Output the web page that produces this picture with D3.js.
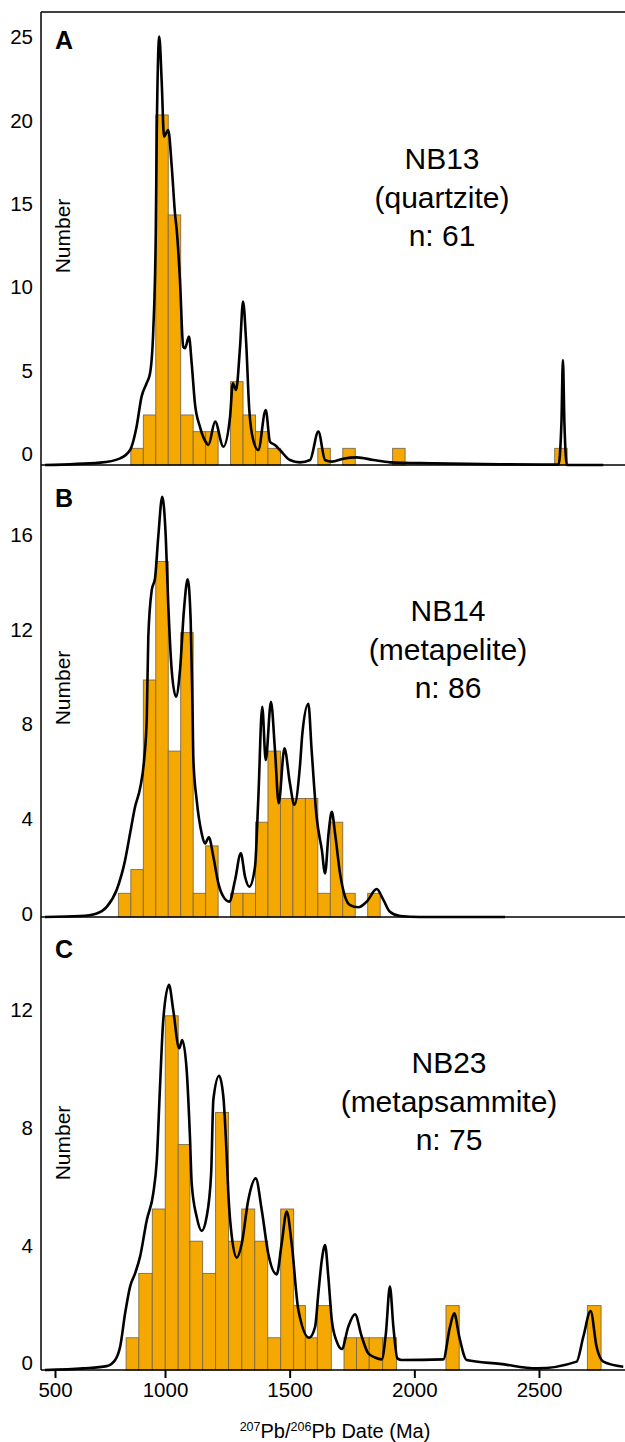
<!DOCTYPE html>
<html><head><meta charset="utf-8">
<script src="https://cdn.jsdelivr.net/npm/d3@7/dist/d3.min.js"></script>
<style>
body{margin:0;background:#fff}
svg{display:block}
text{font-family:"Liberation Sans",Arial,Helvetica,sans-serif;fill:#000}
</style>
</head><body>
<svg id="chart" width="625" height="1442"></svg>
<script>
// ---------------- data ----------------
const xTickValues = [500, 1000, 1500, 2000, 2500];

// Panel A  (NB13, quartzite)
const aTicks = [0, 5, 10, 15, 20, 25];
const aBinLo = [863, 913, 963, 1013, 1063, 1113, 1163, 1263, 1313, 1363, 1413, 1613, 1713, 1913, 2563];
const aBinHi = [913, 963, 1013, 1063, 1113, 1163, 1213, 1313, 1363, 1413, 1463, 1663, 1763, 1963, 2613];
const aCount = [1, 3, 21, 15, 3, 2, 2, 5, 3, 2, 1, 1, 1, 1, 1];
const aCurveAge = [450, 725, 820, 860, 886, 906, 926, 940, 953, 963, 967, 977, 987, 996, 1013, 1027, 1040, 1047, 1060, 1073, 1080, 1096, 1107, 1120, 1140, 1167, 1174, 1201, 1234, 1261, 1272, 1285, 1301, 1313, 1325, 1338, 1354, 1374, 1404, 1421, 1441, 1461, 1501, 1541, 1582, 1615, 1642, 1669, 1715, 1769, 1836, 1902, 2075, 2344, 2578, 2590, 2596, 2602, 2612, 2758];
const aCurveVal = [0, 0.14, 0.4, 0.9, 2.3, 4.1, 4.9, 5.5, 8.1, 13.9, 20, 25.7, 22.9, 19.7, 20.1, 17.9, 15.1, 14.1, 11.1, 7.1, 7.0, 7.7, 6.1, 3.7, 2.3, 1.3, 1.2, 2.6, 1.1, 2.9, 4.9, 4.5, 7.1, 9.8, 7.5, 3.3, 1.5, 0.9, 3.3, 1.4, 1.2, 0.9, 0.3, 0.16, 0.3, 2.0, 0.3, 0.2, 0.38, 0.46, 0.3, 0.16, 0.1, 0.04, 0.02, 2.5, 6.3, 2.5, 0, 0];

// Panel B  (NB14, metapelite)
const bTicks = [0, 4, 8, 12, 16];
const bBinLo = [813, 863, 913, 963, 1013, 1063, 1113, 1163, 1263, 1313, 1363, 1413, 1463, 1513, 1563, 1613, 1663, 1713, 1813];
const bBinHi = [863, 913, 963, 1013, 1063, 1113, 1163, 1213, 1313, 1363, 1413, 1463, 1513, 1563, 1613, 1663, 1713, 1763, 1863];
const bCount = [1, 2, 10, 15, 7, 12, 1, 3, 1, 1, 4, 7, 5, 5, 5, 1, 4, 1, 1];
const bCurveAge = [450, 625, 708, 758, 806, 840, 860, 880, 900, 916, 927, 933, 947, 960, 973, 989, 1003, 1013, 1027, 1044, 1060, 1076, 1091, 1103, 1110, 1114, 1127, 1147, 1160, 1176, 1194, 1214, 1234, 1258, 1281, 1304, 1321, 1338, 1361, 1374, 1390, 1404, 1425, 1441, 1456, 1479, 1501, 1519, 1541, 1551, 1575, 1588, 1608, 1629, 1642, 1656, 1669, 1682, 1702, 1722, 1742, 1775, 1809, 1849, 1876, 1902, 1943, 2023, 2364];
const bCurveVal = [0, 0.04, 0.15, 0.43, 1.14, 2.4, 3.53, 4.65, 5.43, 6.6, 8.45, 11.8, 13.8, 14.3, 16.05, 17.73, 16.05, 13.2, 10.4, 9.3, 10.4, 12.95, 14.25, 12.5, 9.0, 6.6, 4.94, 3.53, 3.1, 3.36, 2.54, 1.42, 0.86, 0.65, 1.56, 2.69, 1.7, 1.28, 2.12, 4.94, 8.87, 6.62, 9.08, 7.05, 4.8, 7.12, 5.64, 4.73, 6.34, 7.75, 9.0, 7.05, 4.23, 2.83, 1.84, 3.53, 4.44, 3.53, 1.84, 0.86, 0.5, 0.41, 0.65, 1.18, 0.72, 0.22, 0.04, 0, 0];

// Panel C  (NB23, metapsammite)
const cTicks = [0, 4, 8, 12];
const cBinLo = [844, 895, 949, 1001, 1053, 1100, 1151, 1203, 1255, 1308, 1360, 1412, 1464, 1516, 1563, 1611, 1718, 1768, 1819, 1873, 2127, 2694];
const cBinHi = [895, 949, 1001, 1053, 1100, 1151, 1203, 1255, 1308, 1360, 1412, 1464, 1516, 1563, 1611, 1667, 1768, 1819, 1873, 1929, 2180, 2749];
const cCount = [1, 3, 5, 11, 7, 4, 3, 8, 4, 5, 4, 1, 5, 2, 1, 2, 1, 1, 1, 1, 2, 2];
const cCurveAge = [450, 641, 758, 800, 820, 840, 860, 880, 900, 927, 953, 967, 980, 993, 1016, 1033, 1057, 1069, 1087, 1100, 1107, 1127, 1147, 1167, 1185, 1194, 1217, 1234, 1247, 1254, 1268, 1288, 1308, 1334, 1364, 1388, 1414, 1448, 1468, 1488, 1508, 1535, 1578, 1602, 1615, 1629, 1642, 1655, 1669, 1689, 1709, 1735, 1762, 1789, 1815, 1842, 1869, 1886, 1902, 1916, 1932, 1949, 2116, 2143, 2160, 2180, 2210, 2344, 2491, 2651, 2678, 2707, 2731, 2758, 2838];
const cCurveVal = [0, 0.05, 0.12, 0.31, 0.72, 1.76, 2.59, 3.0, 3.52, 4.66, 5.49, 6.5, 8.8, 10.87, 11.96, 11.18, 9.99, 10.25, 9.3, 7.25, 5.8, 4.76, 4.32, 4.76, 6.1, 8.4, 9.14, 8.49, 6.73, 5.49, 4.14, 3.49, 3.93, 5.28, 5.95, 4.97, 3.62, 2.97, 3.93, 4.92, 3.93, 1.86, 1.0, 1.34, 2.38, 3.42, 3.88, 2.9, 1.55, 0.88, 0.65, 1.34, 1.73, 1.04, 0.52, 0.39, 0.33, 1.14, 2.59, 1.34, 0.36, 0.31, 0.33, 1.34, 1.76, 1.04, 0.31, 0.19, 0.05, 0.26, 1.04, 1.83, 0.72, 0.26, 0.1];

const letters = ["A", "B", "C"];
const sampleNames = ["NB13", "NB14", "NB23"];
const rockTypes = ["(quartzite)", "(metapelite)", "(metapsammite)"];
const nLabels = ["n: 61", "n: 86", "n: 75"];
const yTitle = "Number";

// ---------------- layout / style ----------------
const LEFT = 41, RIGHT = 625, TOP = 12;
const ORANGE = "#f5a800", BAR_STROKE = "#7f6b48";

const svg = d3.select("#chart");
const x = d3.scaleLinear().domain([430, 500, 800, 2845]).range([LEFT, 55, 115.14, RIGHT]);

const panels = [
  {lo: aBinLo, hi: aBinHi, cnt: aCount, age: aCurveAge, val: aCurveVal, ticks: aTicks,
   y: d3.scaleLinear().domain([0, 27]).range([465, 465 - 27 * 16.67]),
   axisShift: -11, textCx: 442, textBase: 169, letterBase: 49, titleCy: 236},
  {lo: bBinLo, hi: bBinHi, cnt: bCount, age: bCurveAge, val: bCurveVal, ticks: bTicks,
   y: d3.scaleLinear().domain([0, 19]).range([917, 917 - 19 * 23.7]),
   axisShift: -3, textCx: 448, textBase: 621, letterBase: 507, titleCy: 688},
  {lo: cBinLo, hi: cBinHi, cnt: cCount, age: cCurveAge, val: cCurveVal, ticks: cTicks,
   y: d3.scaleLinear().domain([0, 14]).range([1370, 1370 - 14 * 32.2]),
   axisScale: d3.scaleLinear().domain([0, 12]).range([1363.3, 1010]),
   axisShift: 0, textCx: 449, textBase: 1073, letterBase: 958, titleCy: 1143}
];

panels.forEach((p, i) => {
  const g = svg.append("g");
  const base = p.y(0);
  const bars = p.cnt.map((c, j) => ({lo: p.lo[j], hi: p.hi[j], c}));
  g.selectAll("rect").data(bars).join("rect")
    .attr("x", d => x(d.lo))
    .attr("width", d => x(d.hi) - x(d.lo))
    .attr("y", d => p.y(d.c))
    .attr("height", d => base - p.y(d.c))
    .attr("fill", ORANGE)
    .attr("stroke", BAR_STROKE)
    .attr("stroke-width", 0.9);

  g.append("line").attr("x1", LEFT).attr("x2", RIGHT).attr("y1", base).attr("y2", base)
    .attr("stroke", "#000").attr("stroke-width", 1.5);

  const pts = p.age.map((a, j) => [a, p.val[j]]);
  g.append("path").datum(pts)
    .attr("d", d3.line().x(d => x(d[0])).y(d => p.y(d[1])).curve(d3.curveMonotoneX))
    .attr("fill", "none").attr("stroke", "#000").attr("stroke-width", 2.6)
    .attr("stroke-linejoin", "round");

  const ax = d3.axisLeft(p.axisScale || p.y).tickValues(p.ticks).tickSize(0).tickPadding(8);
  const ag = g.append("g").attr("transform", `translate(${LEFT},${p.axisShift})`).call(ax);
  ag.select(".domain").remove();
  ag.selectAll("text").attr("font-size", 20.5).style("font-family", '"Liberation Sans",Arial,sans-serif');

  g.append("text").attr("transform", `translate(70,${p.titleCy}) rotate(-90)`)
    .attr("text-anchor", "middle").attr("font-size", 21).text(yTitle);

  g.append("text").attr("x", 55).attr("y", p.letterBase).attr("font-size", 25)
    .attr("font-weight", "bold").text(letters[i]);

  const t = g.append("text").attr("text-anchor", "middle").attr("font-size", 30);
  [sampleNames[i], rockTypes[i], nLabels[i]].forEach((s, k) => {
    t.append("tspan").attr("x", p.textCx).attr("y", p.textBase + k * 38.5).text(s);
  });
});

svg.append("line").attr("x1", LEFT).attr("x2", LEFT).attr("y1", TOP).attr("y2", 1370)
  .attr("stroke", "#000").attr("stroke-width", 1.5);
svg.append("line").attr("x1", LEFT).attr("x2", RIGHT).attr("y1", TOP).attr("y2", TOP)
  .attr("stroke", "#000").attr("stroke-width", 1.5);

const xg = svg.append("g").attr("transform", "translate(0,1370)")
  .call(d3.axisBottom(x).tickValues(xTickValues).tickSize(8).tickPadding(4).tickFormat(d3.format("d")));
xg.select(".domain").remove();
xg.selectAll("line").attr("stroke", "#000").attr("stroke-width", 2);
xg.selectAll("text").attr("font-size", 20.5).style("font-family", '"Liberation Sans",Arial,sans-serif');

const xt = svg.append("text").attr("x", 335).attr("y", 1438).attr("text-anchor", "middle").attr("font-size", 20);
xt.append("tspan").attr("font-size", 12.5).attr("dy", -7.5).text("207");
xt.append("tspan").attr("dy", 7.5).text("Pb/");
xt.append("tspan").attr("font-size", 12.5).attr("dy", -7.5).text("206");
xt.append("tspan").attr("dy", 7.5).text("Pb Date (Ma)");
</script>
</body></html>
